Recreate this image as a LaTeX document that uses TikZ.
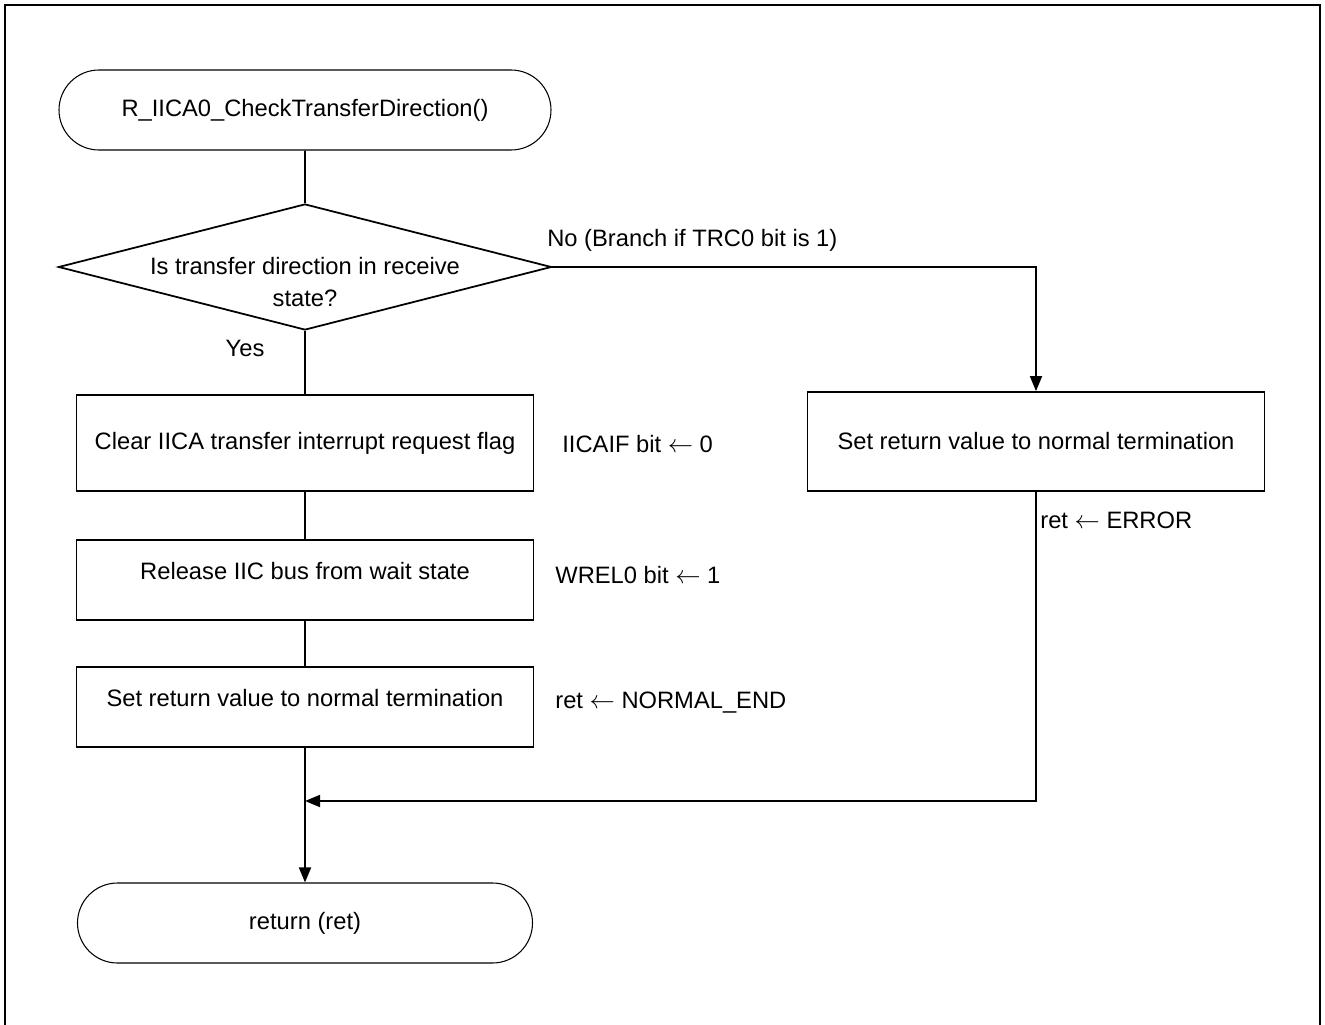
\documentclass[tikz,border=0pt]{standalone}
\usepackage{fontspec}
\setmainfont{Liberation Sans}
\usetikzlibrary{shapes.geometric,shapes.misc,arrows.meta}
\begin{document}
\begin{tikzpicture}[
  font=\fontsize{13.5}{18}\selectfont,
  term/.style={rounded rectangle, draw, line width=0.6pt, minimum width=#1, minimum height=1.6cm, inner sep=0pt},
  procbox/.style={rectangle, draw, line width=1pt, minimum width=9.14cm, minimum height=#1, inner sep=0pt},
  hightext/.style={text height=0.34cm, text depth=0.38cm},
  decbox/.style={diamond, draw, line width=1pt, minimum width=9.86cm, minimum height=2.52cm, inner sep=0pt},
  flow/.style={line width=1pt},
  flowarr/.style={line width=1pt, -{Triangle[length=0.3cm,width=0.24cm]}},
  note/.style={anchor=west, inner sep=0pt}
]
\useasboundingbox (0,0) rectangle (26.5,-20.5);
\draw[line width=1pt] (0.1,-21) -- (0.1,-0.1) -- (26.4,-0.1) -- (26.4,-21);
\node[term=9.84cm] (start) at (6.1,-2.2){R\_IICA0\_CheckTransferDirection()};
\node[decbox] (dec) at (6.1,-5.34){};
\node[align=center] (dectxt) at (6.1,-5.64){Is transfer direction in receive\\state?};
\node[procbox=1.92cm] (clr) at (6.1,-8.86){Clear IICA transfer interrupt request flag};
\node[procbox=1.6cm, hightext] (rel) at (6.1,-11.6){Release IIC bus from wait state};
\node[procbox=1.6cm, hightext] (setok) at (6.1,-14.14){Set return value to normal termination};
\node[procbox=1.98cm] (seterr) at (20.72,-8.83){Set return value to normal termination};
\node[term=9.1cm] (ret) at (6.1,-18.46){return (ret)};
\coordinate (join) at (6.1,-16.02);
\node (yes) at (4.9,-6.96){Yes};
\node[note] (no) at (10.94,-4.8){No (Branch if TRC0 bit is 1)};
\node[note] (nclr) at (11.24,-8.88){IICAIF bit $\leftarrow$ 0};
\node[note] (nrel) at (11.1,-11.5){WREL0 bit $\leftarrow$ 1};
\node[note] (nok) at (11.1,-14.06){ret $\leftarrow$ NORMAL\_END};
\node[note] (nerr) at (20.8,-10.4){ret $\leftarrow$ ERROR};
\draw[flow] (start) -- (dec);
\draw[flow] (dec) -- (clr);
\draw[flow] (clr) -- (rel);
\draw[flow] (rel) -- (setok);
\draw[flowarr] (dec.east) -| (seterr.north);
\draw[flowarr] (seterr.south) |- (join);
\draw[flowarr] (setok) -- (ret);
\end{tikzpicture}
\end{document}
